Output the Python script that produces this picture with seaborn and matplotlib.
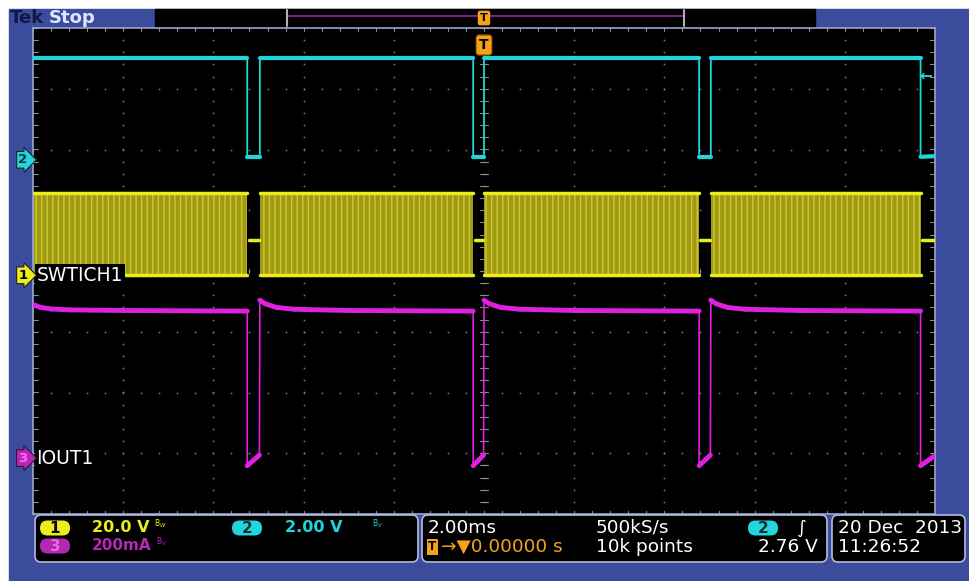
import numpy as np
import pandas as pd
import matplotlib.pyplot as plt
import matplotlib.transforms as mtransforms
from matplotlib.patches import Rectangle, FancyBboxPatch
import seaborn as sns

# ==========================
# Scope settings
# ==========================
ch1_scale = 20.0     # V/div
ch2_scale = 2.0      # V/div
ch3_scale = 200.0    # mA/div
ch1_pos = -0.07      # ground position, divisions from centre
ch2_pos = 1.83
ch3_pos = -3.08
trig_level = 2.76    # V on ch2

# ch2: gate signal, time in ms, level in V
ch2_t = [-10.0, -5.25, -5.25, -4.97, -4.97, -0.24, -0.24, 0.0, 0.0,
         4.77, 4.77, 5.03, 5.03, 9.68, 9.68, 10.0]
ch2_v = [3.35, 3.35, 0.1, 0.1, 3.35, 3.35, 0.1, 0.1, 3.35,
         3.35, 0.1, 0.1, 3.35, 3.35, 0.1, 0.12]

# ch1: switching bursts (on windows in ms) and levels in V
ch1_on_start = [-10.0, -4.97, 0.0, 5.03]
ch1_on_end = [-5.25, -0.24, 4.77, 9.68]
ch1_high = 27.0
ch1_low = 0.0
ch1_idle = 11.5

# ch3: output current, time in ms, current in mA
ch3_t = [-10.0, -9.85, -9.6, -9.2, -8.0, -5.25, -5.25, -4.98, -4.97,
         -4.85, -4.6, -4.2, -3.0, -0.24, -0.24, -0.01, 0.0,
         0.12, 0.37, 0.8, 2.0, 4.77, 4.77, 5.02, 5.03,
         5.15, 5.4, 5.8, 7.0, 9.68, 9.68, 10.0]
ch3_i = [506, 497, 491, 488, 486, 484, -25, 10, 520,
         508, 496, 490, 486, 484, -25, 10, 520,
         508, 496, 490, 486, 484, -25, 10, 520,
         508, 496, 490, 486, 484, -25, 8]

yellow = '#ecec1c'
cyan = '#22d4dc'
magenta = '#e020e0'
dark_magenta = '#b428b4'
orange = '#f4a21c'
blue_bg = '#3c4c9c'

sns.set_theme(style="dark")
plt.rcParams['font.family'] = ['DejaVu Sans']

W, H = 969, 581
fig = plt.figure(figsize=(W / 100, H / 100), dpi=100, facecolor='white')

# background layer in pixel coordinates
bg = fig.add_axes([0, 0, 1, 1], zorder=0)
bg.set_xlim(0, W)
bg.set_ylim(H, 0)
bg.axis('off')
bg.add_patch(Rectangle((9, 9), W - 9, H - 9, color=blue_bg))
bg.add_patch(Rectangle((155, 9), 660, 18, color='black'))
bg.plot([287, 684], [16, 16], color='#a020a0', lw=1.2)
bg.plot([287, 287], [10, 26], color='#b0b0b0', lw=1.5)
bg.plot([684, 684], [10, 26], color='#b0b0b0', lw=1.5)
bg.text(10, 18, 'Tek', color='#14164a', fontsize=13, fontweight='bold', va='center')
bg.text(49, 18, 'Stop', color='#dfe4ff', fontsize=13, fontweight='bold', va='center')
bg.text(484, 18, 'T', color='black', fontsize=8, fontweight='bold', ha='center', va='center',
        bbox=dict(boxstyle='round,pad=0.15', fc=orange, ec=orange))

# ==========================
# Graticule (main axes): x in ms, y in divisions
# ==========================
left, top, right, bottom = 33, 28, 935, 514
ax = fig.add_axes([left / W, 1 - bottom / H, (right - left) / W, (bottom - top) / H], zorder=1)
ax.set_facecolor('black')
ax.set_xlim(-10, 10)
ax.set_ylim(-4, 4)
ax.set_xticks([])
ax.set_yticks([])
for s in ax.spines.values():
    s.set_color('#9aa6d0')
    s.set_linewidth(1.2)
    s.set_visible(True)

dot = '#747474'
sub_x = np.arange(-10, 10.01, 0.4)
sub_y = np.arange(-4, 4.01, 0.2)
for gx in np.arange(-8, 9, 2):
    ax.scatter(np.full(sub_y.size, gx), sub_y, s=1.8, color=dot, lw=0)
for gy in np.arange(-3, 4, 1):
    ax.scatter(sub_x, np.full(sub_x.size, gy), s=1.8, color=dot, lw=0)
# centre cross and frame ticks
tick = '#8a8a8a'
for x in sub_x:
    ax.plot([x, x], [-0.04, 0.04], color=tick, lw=0.8)
    ax.plot([x, x], [3.95, 4.0], color=tick, lw=0.8)
    ax.plot([x, x], [-4.0, -3.95], color=tick, lw=0.8)
for y in sub_y:
    ax.plot([-0.08, 0.08], [y, y], color=tick, lw=0.8)
    ax.plot([-10, -9.9], [y, y], color=tick, lw=0.8)
    ax.plot([9.9, 10], [y, y], color=tick, lw=0.8)

# ==========================
# Traces
# ==========================
# ch1 bursts
for s, e in zip(ch1_on_start, ch1_on_end):
    lo = ch1_low / ch1_scale + ch1_pos
    hi = ch1_high / ch1_scale + ch1_pos
    ax.fill_between([s, e], lo, hi, facecolor='#a09a12', edgecolor='#cfc836',
                    hatch='|||', linewidth=0, zorder=2)
    ax.plot([s, e], [hi, hi], color=yellow, lw=2.5, zorder=3)
    ax.plot([s, e], [lo, lo], color=yellow, lw=2.5, zorder=3)
idle = ch1_idle / ch1_scale + ch1_pos
for s, e in zip(ch1_on_end, ch1_on_start[1:] + [10.0]):
    ax.plot([s + 0.03, e - 0.03], [idle, idle], color=yellow, lw=2.5, zorder=3)

df2 = pd.DataFrame({'t': ch2_t, 'div': np.array(ch2_v) / ch2_scale + ch2_pos})
sns.lineplot(data=df2, x='t', y='div', ax=ax, color=cyan, lw=1.3,
             estimator=None, sort=False, zorder=4)
# thicker on the flat parts to mimic the noisy trace
for i in range(0, len(ch2_t) - 1, 2):
    ax.plot(ch2_t[i:i + 2], df2['div'].iloc[i:i + 2], color=cyan, lw=3, zorder=4)

df3 = pd.DataFrame({'t': ch3_t, 'div': np.array(ch3_i) / ch3_scale + ch3_pos})
sns.lineplot(data=df3, x='t', y='div', ax=ax, color=magenta, lw=1.2,
             estimator=None, sort=False, zorder=4)
for i in range(len(ch3_t) - 1):
    if ch3_t[i + 1] - ch3_t[i] > 0.05:
        ax.plot(ch3_t[i:i + 2], df3['div'].iloc[i:i + 2], color=magenta, lw=3.5,
                zorder=4, solid_capstyle='round')
ax.set_xlabel('')
ax.set_ylabel('')

# channel labels inside the graticule
ax.text(-9.92, ch1_pos, 'SWTICH1', color='white', fontsize=13.5, va='center',
        bbox=dict(boxstyle='square,pad=0.08', fc='black', ec='none'), zorder=6)
ax.text(-9.92, ch3_pos, 'IOUT1', color='white', fontsize=13.5, va='center',
        bbox=dict(boxstyle='square,pad=0.08', fc='black', ec='none'), zorder=6)

# ground markers on the left and trigger markers
blend = mtransforms.blended_transform_factory(ax.transAxes, ax.transData)
markers = [('2', ch2_pos, cyan, '#0a3a40'), ('1', ch1_pos, yellow, 'black'),
           ('3', ch3_pos, '#c020c0', '#f070f0')]
for lab, pos, fc, tc in markers:
    ax.text(-0.006, pos, lab, transform=blend, ha='right', va='center', color=tc,
            fontsize=9.5, fontweight='bold', clip_on=False, zorder=7,
            bbox=dict(boxstyle='rarrow,pad=0.14', fc=fc, ec='#202020', lw=0.8))
ax.text(0.99, trig_level / ch2_scale + ch2_pos, '\u2190', transform=blend, ha='center',
        va='center', color=cyan, fontsize=11, fontweight='bold', zorder=7)
ax.text(0, 3.72, 'T', color='black', fontsize=10, fontweight='bold', ha='center', va='center',
        bbox=dict(boxstyle='round,pad=0.2', fc=orange, ec='#c07000'), zorder=7)

# ==========================
# Readout panels along the bottom
# ==========================
ov = fig.add_axes([0, 0, 1, 1], zorder=3)
ov.set_xlim(0, W)
ov.set_ylim(H, 0)
ov.axis('off')
ov.patch.set_alpha(0)

panel = dict(boxstyle='round,pad=0,rounding_size=6', fc='black', ec='#b4bcdc', lw=1.2)
for x0, x1 in [(35, 418), (422, 827), (832, 965)]:
    ov.add_patch(FancyBboxPatch((x0, 515), x1 - x0, 47, **panel))

fs = 11.5     # channel readouts
fw = 13.3     # white readouts
r1, r2 = 528, 546


def badge(xc, y, lab, fc, tc):
    ov.add_patch(FancyBboxPatch((xc - 15, y - 7.5), 30, 15, fc=fc, ec='none',
                                boxstyle='round,pad=0,rounding_size=7.5'))
    ov.text(xc, y + 0.5, lab, ha='center', va='center', color=tc, fontsize=11, fontweight='bold')


badge(55, r1, '1', yellow, 'black')
ov.text(92, r1, '20.0 V', color=yellow, fontsize=fs, fontweight='bold', va='center')
ov.text(154, r1 - 4, 'B$_W$', color=yellow, fontsize=5.5, va='center')
badge(247, r1, '2', cyan, '#103038')
ov.text(285, r1, '2.00 V', color=cyan, fontsize=fs, fontweight='bold', va='center')
ov.text(372, r1 - 4, 'B$_V$', color=cyan, fontsize=5.5, va='center')
badge(55, r2, '3', dark_magenta, '#e070e0')
ov.text(92, r2, '200mA', color=dark_magenta, fontsize=11, fontweight='bold', va='center')
ov.text(156, r2 - 4, 'B$_V$', color=dark_magenta, fontsize=5.5, va='center')

ov.text(428, r1, '2.00ms', color='white', fontsize=fw, va='center')
ov.text(428, r2 + 1, 'T', color='black', fontsize=8.5, fontweight='bold', va='center',
        bbox=dict(boxstyle='square,pad=0.12', fc=orange, ec='none'))
ov.text(441, r2 + 1, '\u2192\u25bc0.00000 s', color=orange, fontsize=fw, va='center')
ov.text(596, r1, '500kS/s', color='white', fontsize=fw, va='center')
ov.text(596, r2 + 1, '10k points', color='white', fontsize=fw, va='center')
badge(763, r1, '2', cyan, '#103038')
ov.text(802, r1, '\u222b', color='white', fontsize=fw, va='center', ha='center')
ov.text(818, r2 + 1, '2.76 V', color='white', fontsize=fw, va='center', ha='right')

ov.text(838, r1, '20 Dec  2013', color='white', fontsize=fw, va='center')
ov.text(838, r2 + 1, '11:26:52', color='white', fontsize=fw, va='center')

fig.savefig('out.png', dpi=100, facecolor='white')
